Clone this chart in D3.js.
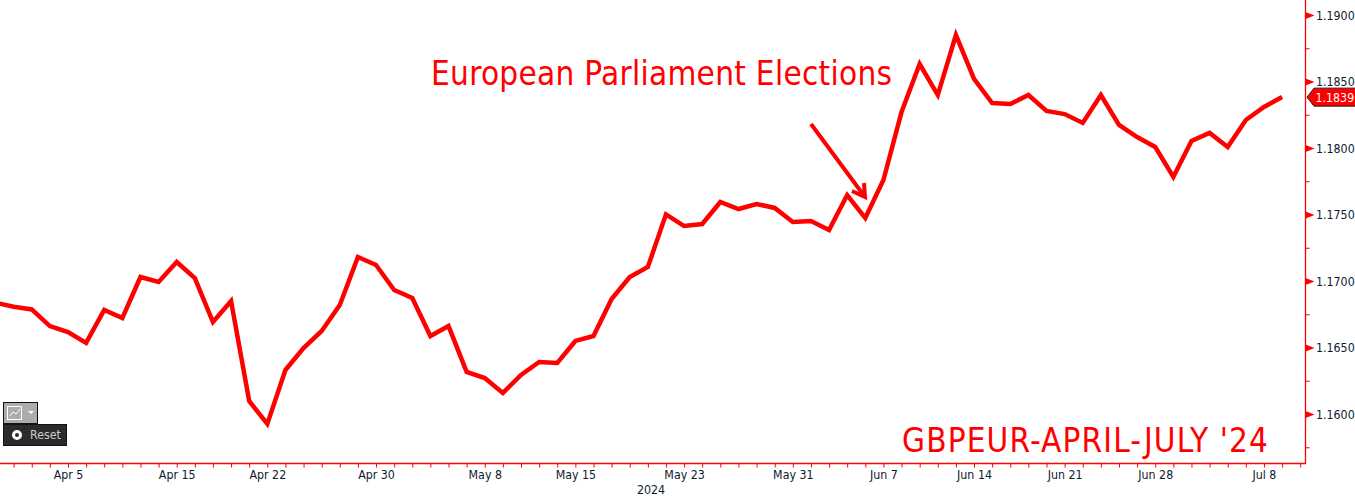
<!DOCTYPE html>
<html>
<head>
<meta charset="utf-8">
<script src="https://cdn.jsdelivr.net/npm/d3@7"></script>
<style>
    html, body { margin: 0; padding: 0; background: #fff; }
    svg { display: block; }
    text { font-family: "DejaVu Sans", sans-serif; }
    .tick-label { font-size: 12.3px; fill: #0d1a2b; font-stretch: condensed; }
    .note { fill: #ff0000; font-stretch: condensed; }
</style>
</head>
<body>
<svg id="chart" width="1355" height="496"></svg>
<script>
// business days, the last one only carries an axis tick
const dates = [
    '04-01','04-02','04-03','04-04','04-05','04-08','04-09','04-10','04-11','04-12',
    '04-15','04-16','04-17','04-18','04-19','04-22','04-23','04-24','04-25','04-26',
    '04-29','04-30','05-01','05-02','05-03','05-06','05-07','05-08','05-09','05-10',
    '05-13','05-14','05-15','05-16','05-17','05-20','05-21','05-22','05-23','05-24',
    '05-27','05-28','05-29','05-30','05-31','06-03','06-04','06-05','06-06','06-07',
    '06-10','06-11','06-12','06-13','06-14','06-17','06-18','06-19','06-20','06-21',
    '06-24','06-25','06-26','06-27','06-28','07-01','07-02','07-03','07-04','07-05',
    '07-08','07-09','07-10'
];

const gbpeur = [
    1.1684, 1.1681, 1.1679, 1.16665, 1.1662, 1.16538, 1.16786, 1.16726, 1.17034, 1.16996,
    1.17147, 1.17026, 1.16695, 1.16853, 1.16102, 1.15929, 1.16335, 1.165, 1.16628, 1.16823,
    1.17184, 1.17124, 1.16936, 1.16876, 1.1659, 1.16665, 1.1632, 1.16274, 1.16162, 1.16297,
    1.16395, 1.16387, 1.16553, 1.1659, 1.16868, 1.17034, 1.17109, 1.17505, 1.17417, 1.17432,
    1.17598, 1.17545, 1.17583, 1.17553, 1.17447, 1.17455, 1.17387, 1.1765, 1.17477, 1.17763,
    1.18274, 1.18635, 1.18402, 1.18853, 1.18523, 1.18342, 1.18335, 1.18402, 1.18282, 1.18259,
    1.18192, 1.18402, 1.18177, 1.18086, 1.18011, 1.17786, 1.18056, 1.18117, 1.18011, 1.18214,
    1.18312, 1.18387
];

const xLabels = new Map([
    ['04-05', 'Apr 5'], ['04-15', 'Apr 15'], ['04-22', 'Apr 22'], ['04-30', 'Apr 30'],
    ['05-08', 'May 8'], ['05-15', 'May 15'], ['05-23', 'May 23'], ['05-31', 'May 31'],
    ['06-07', 'Jun 7'], ['06-14', 'Jun 14'], ['06-21', 'Jun 21'], ['06-28', 'Jun 28'],
    ['07-08', 'Jul 8']
]);

const yMajor = [1.16, 1.165, 1.17, 1.175, 1.18, 1.185, 1.19];
const yMinor = [1.1575, 1.1625, 1.1675, 1.1725, 1.1775, 1.1825, 1.1875];
const lastValue = 1.1839;

const red = '#ff0000';
const axisX = 1305.5, axisY = 463.5;

const svg = d3.select('#chart');

const x = d3.scalePoint().domain(dates).range([-4.5, 1300.2]);
const y = d3.scaleLinear().domain([1.16, 1.19]).range([414.5, 15.5]);

// x axis
const xAxis = d3.axisBottom(x)
    .tickValues(dates)
    .tickSize(4)
    .tickPadding(3)
    .tickFormat(d => xLabels.get(d) || '');

const gx = svg.append('g').attr('transform', `translate(0,${axisY})`).call(xAxis);
gx.select('.domain').remove();
gx.selectAll('.tick line').attr('stroke', red);
gx.selectAll('.tick text').attr('class', 'tick-label').attr('fill', null);
gx.append('path').attr('d', `M0,0H${axisX + 0.5}`).attr('stroke', red).attr('stroke-width', 1.3);

svg.append('text').attr('class', 'tick-label')
    .attr('x', 651).attr('y', 493.5).attr('text-anchor', 'middle').text('2024');

// y axis
const gy = svg.append('g').attr('transform', `translate(${axisX},0)`);
gy.append('path').attr('d', `M0,0V${axisY}`).attr('stroke', red).attr('stroke-width', 1.3);

gy.selectAll('.minor').data(yMinor).join('line')
    .attr('class', 'minor')
    .attr('x2', 4)
    .attr('y1', d => y(d)).attr('y2', d => y(d))
    .attr('stroke', red);

gy.selectAll('.major').data(yMajor).join('path')
    .attr('class', 'major')
    .attr('d', d => `M0,${y(d) - 3.5}L9,${y(d)}L0,${y(d) + 3.5}Z`)
    .attr('fill', red);

gy.selectAll('.ylab').data(yMajor).join('text')
    .attr('class', 'ylab tick-label')
    .attr('x', 10.5)
    .attr('y', d => y(d))
    .attr('dy', '0.36em')
    .text(d => d3.format('.4f')(d));

// line
const line = d3.line().x((d, i) => x(dates[i])).y(d => y(d));

svg.append('path')
    .datum(gbpeur)
    .attr('d', line)
    .attr('fill', 'none')
    .attr('stroke', red)
    .attr('stroke-width', 4.5)
    .attr('stroke-linejoin', 'miter');

// last value tag
const ly = y(lastValue) + 0.5;
svg.append('path')
    .attr('d', `M1307,${ly}L1314,${ly - 9}H1356V${ly + 9}H1314Z`)
    .attr('fill', red)
    .attr('stroke', '#222')
    .attr('stroke-width', 1);
svg.append('text').attr('class', 'tick-label')
    .attr('x', 1315.5).attr('y', ly).attr('dy', '0.36em')
    .style('fill', '#fff').text(d3.format('.4f')(lastValue));

// annotations
svg.append('text').attr('class', 'note')
    .attr('x', 431).attr('y', 85)
    .attr('textLength', 461).attr('lengthAdjust', 'spacing')
    .style('font-size', '33px')
    .text('European Parliament Elections');

svg.append('text').attr('class', 'note')
    .attr('x', 902).attr('y', 452)
    .attr('textLength', 366).attr('lengthAdjust', 'spacing')
    .style('font-size', '33px')
    .text("GBPEUR-APRIL-JULY '24");

svg.append('path')
    .attr('d', 'M811,124L865,197M852,191L865,197L864,183')
    .attr('fill', 'none')
    .attr('stroke', red)
    .attr('stroke-width', 4);

// toolbar bits bottom left
const tools = svg.append('g');
tools.append('rect').attr('x', 3.5).attr('y', 402.5).attr('width', 34).attr('height', 21)
    .attr('fill', '#acacac').attr('stroke', '#111');
tools.append('rect').attr('x', 7.5).attr('y', 406.5).attr('width', 14).attr('height', 13)
    .attr('fill', 'none').attr('stroke', '#fff');
tools.append('path').attr('d', 'M10,416L13,412L16,414L20,409')
    .attr('fill', 'none').attr('stroke', '#fff');
tools.append('path').attr('d', 'M28,411H34L31,414Z').attr('fill', '#fff');
tools.append('rect').attr('x', 3.5).attr('y', 424.5).attr('width', 63).attr('height', 21)
    .attr('fill', '#2b2b2b').attr('stroke', '#111');
tools.append('circle').attr('cx', 17).attr('cy', 435).attr('r', 3.5)
    .attr('fill', '#2b2b2b').attr('stroke', '#fff').attr('stroke-width', 3);
tools.append('text').attr('x', 30).attr('y', 439)
    .style('font-size', '12.3px').style('font-stretch', 'condensed').style('fill', '#ccc').text('Reset');
</script>
</body>
</html>
